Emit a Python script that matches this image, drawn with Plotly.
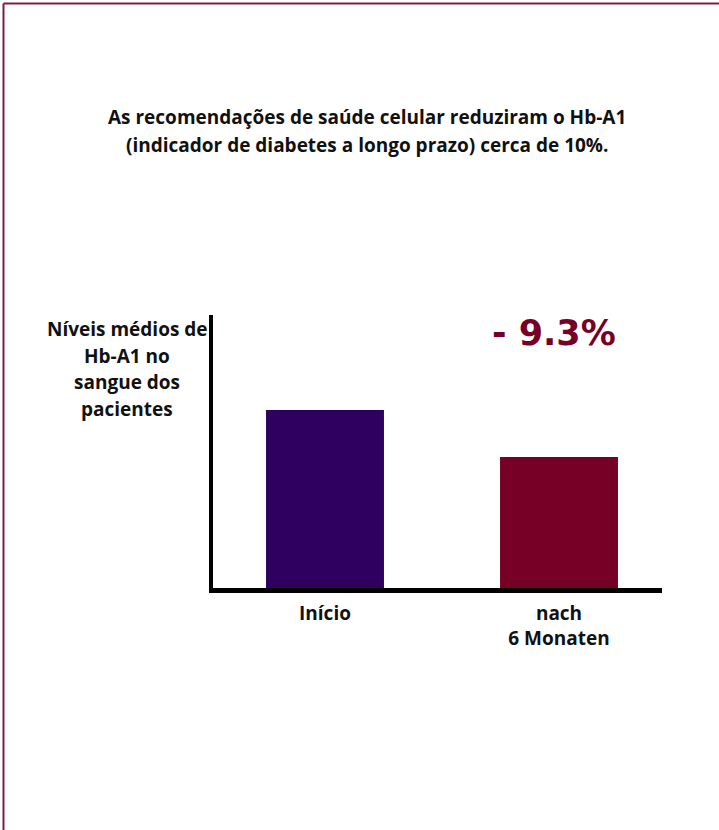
import plotly.graph_objects as go

# ---- data ----
categories = ["Início", "nach<br>6 Monaten"]
values = [7.5, 6.8]          # Hb-A1 mean levels (approx.)
bar_colors = ["#2f0060", "#760026"]
change_label = "- 9.3%"
title_lines = ["As recomendações de saúde celular reduziram o Hb-A1",
               "(indicador de diabetes a longo prazo) cerca de 10%."]
ylabel_lines = ["Níveis médios de", "Hb-A1 no", "sangue dos", "pacientes"]

W, H = 719, 830
L, R, T, B = 213, 57, 315, 242
pw, ph = W - L - R, H - T - B

def px_x(px):
    return (px - L) / pw

def px_y(py):
    return (H - B - py) / ph

fig = go.Figure()
fig.add_trace(go.Bar(
    x=[0, 1], y=values, width=0.504,
    marker=dict(color=bar_colors, line=dict(width=0)),
    hoverinfo="skip",
))

font_txt = "'Open Sans', 'Noto Sans', sans-serif"

annotations = []
for i, line in enumerate(title_lines):
    annotations.append(dict(
        x=px_x(367), y=px_y(117 + 28 * i), xref="paper", yref="paper",
        text=line, showarrow=False, xanchor="center", yanchor="middle",
        font=dict(family=font_txt, size=19, color="#111111", weight="bold")))
for i, line in enumerate(ylabel_lines):
    annotations.append(dict(
        x=px_x(127), y=px_y(329 + 26.7 * i), xref="paper", yref="paper",
        text=line, showarrow=False, xanchor="center", yanchor="middle",
        font=dict(family=font_txt, size=19, color="#111111", weight="bold")))
annotations.append(dict(
    x=px_x(554), y=px_y(333), xref="paper", yref="paper",
    text=change_label, showarrow=False, xanchor="center", yanchor="middle",
    font=dict(family="'DejaVu Sans', sans-serif", size=35,
              color="#760026", weight="bold")))

border = "#7a2048"
shapes = [
    dict(type="line", xref="paper", yref="paper",
         x0=px_x(3.5), x1=px_x(725), y0=px_y(3.5), y1=px_y(3.5),
         line=dict(color=border, width=2)),
    dict(type="line", xref="paper", yref="paper",
         x0=px_x(3.5), x1=px_x(3.5), y0=px_y(3.5), y1=px_y(840),
         line=dict(color=border, width=2)),
]

k = (values[0] - values[1]) / (457 - 410)
base = values[0] - (588 - 410) * k
top = values[0] + (410 - 315) * k

fig.update_layout(
    width=W, height=H,
    margin=dict(l=L, r=R, t=T, b=B, pad=0),
    paper_bgcolor="white", plot_bgcolor="white",
    showlegend=False,
    annotations=annotations,
    shapes=shapes,
    xaxis=dict(
        range=[-(325 - 213) / 234, (662 - 325) / 234],
        tickmode="array", tickvals=[0, 1], ticktext=categories,
        showgrid=False, zeroline=False,
        showline=True, linecolor="black", linewidth=5,
        ticks="", ticklabelstandoff=4,
        tickfont=dict(family=font_txt, size=19, color="#111111", weight="bold"),
        fixedrange=True,
    ),
    yaxis=dict(
        range=[base, top],
        showgrid=False, zeroline=False, showticklabels=False,
        showline=True, linecolor="black", linewidth=4, ticks="",
        fixedrange=True,
    ),
)

fig.write_html("out.html", config={"displayModeBar": False},
               post_script="document.body.style.margin='0px';document.body.style.overflow='hidden';")
